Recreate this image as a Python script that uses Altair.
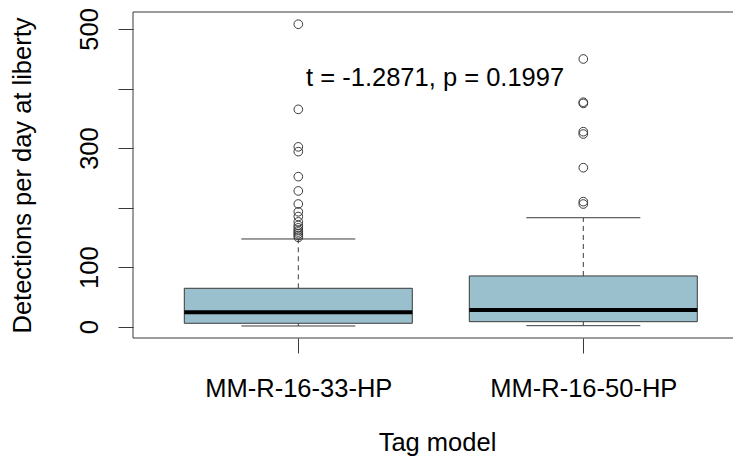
import altair as alt
import pandas as pd

# ---- data ----
categories = ["MM-R-16-33-HP", "MM-R-16-50-HP"]
positions = [1, 2]
q1 = [5.7, 8.4]
medians = [24.2, 28.0]
q3 = [64.5, 85.2]
whisker_lo = [1.2, 1.7]
whisker_hi = [147.3, 183.0]
outliers_33 = [150, 153, 156, 159, 162, 166, 170, 176, 185, 193, 206, 228, 252, 294, 302, 365, 508]
outliers_50 = [206, 210, 267, 323.6, 327.5, 375, 377, 449.6]
y_ticks = [0, 100, 200, 300, 400, 500]
y_labels_shown = [0, 100, 300, 500]
annotation = "t = -1.2871, p = 0.1997"
ann_x, ann_y = 1.48, 404

BOX_HALF = 0.4
CAP_HALF = 0.2
FONT = "Liberation Sans"
FS = 25.5
BOX_FILL = "#9AC0CD"
LINE = "#3a3a3a"
W, H = 600, 326

box_df = pd.DataFrame({
    "cat": categories, "pos": positions, "q1": q1, "med": medians, "q3": q3,
    "lo": whisker_lo, "hi": whisker_hi,
})
box_df["left"] = box_df["pos"] - BOX_HALF
box_df["right"] = box_df["pos"] + BOX_HALF
box_df["capl"] = box_df["pos"] - CAP_HALF
box_df["capr"] = box_df["pos"] + CAP_HALF

out_df = pd.DataFrame({
    "pos": [positions[0]] * len(outliers_33) + [positions[1]] * len(outliers_50),
    "val": outliers_33 + outliers_50,
})
ann_df = pd.DataFrame({"x": [ann_x], "y": [ann_y], "t": [annotation]})

x_scale = alt.Scale(domain=[0.42, 0.42 + W / 285], nice=False, zero=False)
y_scale = alt.Scale(domain=[-19, 528.5], nice=False, zero=False)

label_expr_x = " : ".join(
    f"datum.value == {p} ? '{c}'" for p, c in zip(positions, categories)
) + " : ''"
label_expr_y = "indexof(" + str(y_labels_shown) + ", datum.value) >= 0 ? datum.label : ''"

x_axis = alt.Axis(
    values=positions, labelExpr=label_expr_x, title="Tag model",
    tickSize=15, tickColor=LINE, domain=False, grid=False,
    labelFont=FONT, labelFontSize=FS, labelColor="black", labelBaseline="alphabetic",
    labelPadding=43, labelOverlap=False, labelFlush=False, labelLimit=0,
    titleFont=FONT, titleFontSize=FS, titleFontWeight="normal", titleColor="black",
    titleBaseline="alphabetic", titleAlign="center", titleX=304, titleY=112,
)
y_axis = alt.Axis(
    values=y_ticks, labelExpr=label_expr_y, title="Detections per day at liberty",
    tickSize=15, tickColor=LINE, domain=False, grid=False,
    labelFont=FONT, labelFontSize=FS, labelColor="black", labelAngle=270,
    labelAlign="center", labelBaseline="alphabetic", labelPadding=21,
    labelOverlap=False, labelFlush=False, labelLimit=0,
    titleFont=FONT, titleFontSize=FS, titleFontWeight="normal", titleColor="black",
    titleAngle=270, titleBaseline="alphabetic", titleAlign="center",
    titleX=-103, titleY=H / 2,
)

base = alt.Chart(box_df)

whisk_up = base.mark_rule(color=LINE, strokeWidth=1, strokeDash=[5, 4]).encode(
    x=alt.X("pos:Q", scale=x_scale, axis=x_axis),
    y=alt.Y("q3:Q", scale=y_scale, axis=y_axis),
    y2="hi:Q",
)
whisk_dn = base.mark_rule(color=LINE, strokeWidth=1, strokeDash=[5, 4]).encode(
    x="pos:Q", y="lo:Q", y2="q1:Q",
)
cap_up = base.mark_rule(color=LINE, strokeWidth=1).encode(x="capl:Q", x2="capr:Q", y="hi:Q")
cap_dn = base.mark_rule(color=LINE, strokeWidth=1).encode(x="capl:Q", x2="capr:Q", y="lo:Q")
boxes = base.mark_rect(fill=BOX_FILL, stroke=LINE, strokeWidth=1).encode(
    x="left:Q", x2="right:Q", y="q1:Q", y2="q3:Q",
)
med = base.mark_rule(color="black", strokeWidth=4).encode(x="left:Q", x2="right:Q", y="med:Q")
pts = alt.Chart(out_df).mark_point(
    shape="circle", filled=False, size=75, color=LINE, strokeWidth=1, opacity=1
).encode(x="pos:Q", y="val:Q")
txt = alt.Chart(ann_df).mark_text(
    font=FONT, fontSize=FS, color="black", align="center", baseline="alphabetic"
).encode(x="x:Q", y="y:Q", text="t:N")

# plot frame (top, bottom, left); the right side lies outside the reference crop
frame_top = alt.Chart(ann_df).mark_rule(color=LINE, strokeWidth=1).encode(
    x=alt.value(0), x2=alt.value(W), y=alt.value(0))
frame_bot = alt.Chart(ann_df).mark_rule(color=LINE, strokeWidth=1).encode(
    x=alt.value(0), x2=alt.value(W), y=alt.value(H))
frame_left = alt.Chart(ann_df).mark_rule(color=LINE, strokeWidth=1).encode(
    x=alt.value(0), y=alt.value(0), y2=alt.value(H))

chart = alt.layer(
    whisk_up, whisk_dn, cap_up, cap_dn, boxes, med, pts, txt,
    frame_top, frame_bot, frame_left,
).properties(
    width=W, height=H,
    autosize=alt.AutoSizeParams(type="none"),
    padding={"left": 125, "top": 4, "right": 0, "bottom": 118},
    background="white",
).configure_view(strokeWidth=0)

chart.save("out.html", embed_options={"renderer": "svg", "actions": False})
